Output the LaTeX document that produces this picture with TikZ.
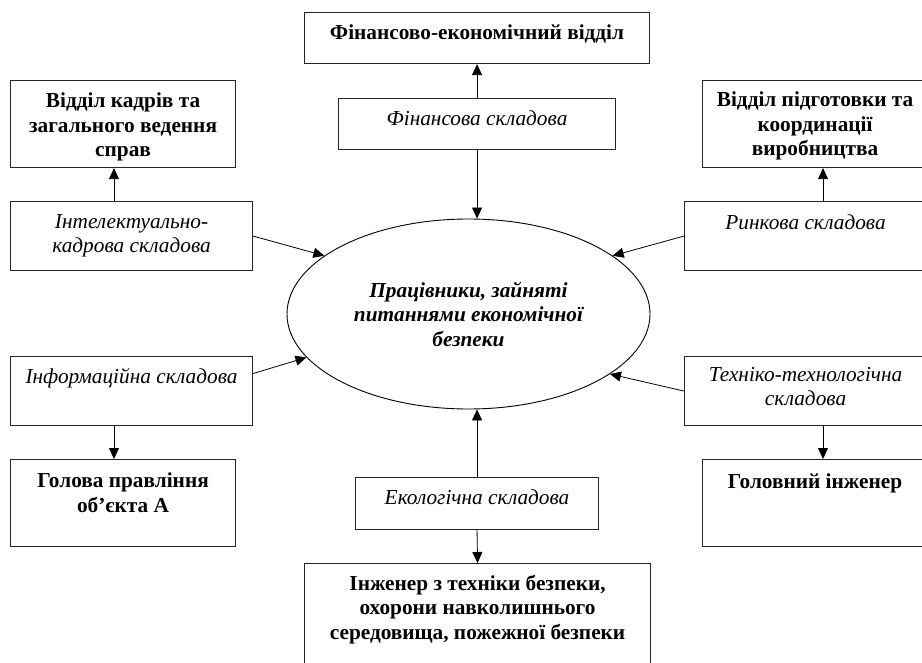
\documentclass[tikz,border=0pt]{standalone}
\usepackage{fontspec}
\setmainfont{Liberation Serif}
\usetikzlibrary{arrows.meta,shapes.geometric,calc}
\begin{document}
\begin{tikzpicture}[x=1pt,y=-1pt,
  box/.style={draw=black!85,line width=1.1pt,rectangle,inner sep=0pt,anchor=north west},
  lbl/.style={align=center,inner sep=0pt,anchor=north,execute at begin node=\strut},
  bt/.style={lbl,font=\fontsize{21.3}{24.5}\selectfont\bfseries},
  it/.style={lbl,font=\fontsize{21.3}{24.5}\selectfont\itshape},
  arr/.style={line width=0.8pt,-{Triangle[length=11pt,width=10pt]}},
]
\useasboundingbox (0,0) rectangle (922,663);
\clip (0,0) rectangle (922,663);
% boxes
\node[box,minimum width=345pt,minimum height=51pt] (fed) at (304,12) {};
\node[box,minimum width=277pt,minimum height=51pt] (fs) at (338,98) {};
\node[box,minimum width=225pt,minimum height=87pt] (vk) at (10,80) {};
\node[box,minimum width=242pt,minimum height=69pt] (int) at (10,201) {};
\node[box,minimum width=225pt,minimum height=87pt] (vp) at (702,80) {};
\node[box,minimum width=242pt,minimum height=69pt] (rin) at (684,201) {};
\node[box,minimum width=242pt,minimum height=69pt] (inf) at (10,356) {};
\node[box,minimum width=242pt,minimum height=69pt] (tech) at (684,356) {};
\node[box,minimum width=225pt,minimum height=87pt] (gol) at (10,459) {};
\node[box,minimum width=225pt,minimum height=87pt] (gi) at (702,459) {};
\node[box,minimum width=243pt,minimum height=52pt] (eco) at (355,477) {};
\node[box,minimum width=346pt,minimum height=110pt] (inzh) at (304,563) {};
% ellipse
\node[ellipse,draw=black,line width=0.9pt,minimum width=363pt,minimum height=190pt,inner sep=0pt,
  align=center,font=\fontsize{21.3}{24.5}\selectfont\bfseries\itshape] (ell) at (468.5,314)
  {Працівники, зайняті\\питаннями економічної\\безпеки};
% texts
\node[bt] (tfed) at ($(fed.north)+(0,10)$) {Фінансово-економічний відділ};
\node[it] (tfs) at ($(fs.north)+(0,10)$) {Фінансова складова};
\node[bt] (tvk) at ($(vk.north)+(0,13)$) {Відділ кадрів та\\загального ведення\\справ};
\node[it] (tint) at ($(int.north)+(0,13)$) {Інтелектуально-\\кадрова складова};
\node[bt] (tvp) at ($(vp.north)+(0,12)$) {Відділ підготовки та\\координації\\виробництва};
\node[it] (trin) at ($(rin.north)+(0,11)$) {Ринкова складова};
\node[it] (tinf) at ($(inf.north)+(0,10)$) {Інформаційна складова};
\node[it] (ttech) at ($(tech.north)+(0,11)$) {Техніко-технологічна\\складова};
\node[bt] (tgol) at ($(gol.north)+(0,14)$) {Голова правління\\об’єкта А};
\node[bt] (tgi) at ($(gi.north)+(0,12)$) {Головний інженер};
\node[it] (teco) at ($(eco.north)+(0,10)$) {Екологічна складова};
\node[bt] (tinzh) at ($(inzh.north)+(0,12)$) {Інженер з техніки безпеки,\\охорони навколишнього\\середовища, пожежної безпеки};
% connectors
\coordinate (lx) at (114,0);
\coordinate (rx) at (823,0);
\draw[arr] (fs.north) -- (fed.south);
\draw[arr] (fs.south) -- (fs.south |- ell.north);
\draw[arr] (lx |- int.north) -- (lx |- vk.south);
\draw[arr] (rx |- rin.north) -- (rx |- vp.south);
\draw[arr] (lx |- inf.south) -- (lx |- gol.north);
\draw[arr] (rx |- tech.south) -- (rx |- gi.north);
\draw[arr] (eco.north) -- (eco.north |- ell.south);
\draw[arr] (eco.south) -- (inzh.north);
\draw[arr] (int.east) -- (ell.158);
\draw[arr] ([yshift=17.5pt]inf.east) -- (ell.195);
\draw[arr] (rin.west) -- (ell.22);
\draw[arr] (tech.west) -- (ell.337);
\end{tikzpicture}
\end{document}
